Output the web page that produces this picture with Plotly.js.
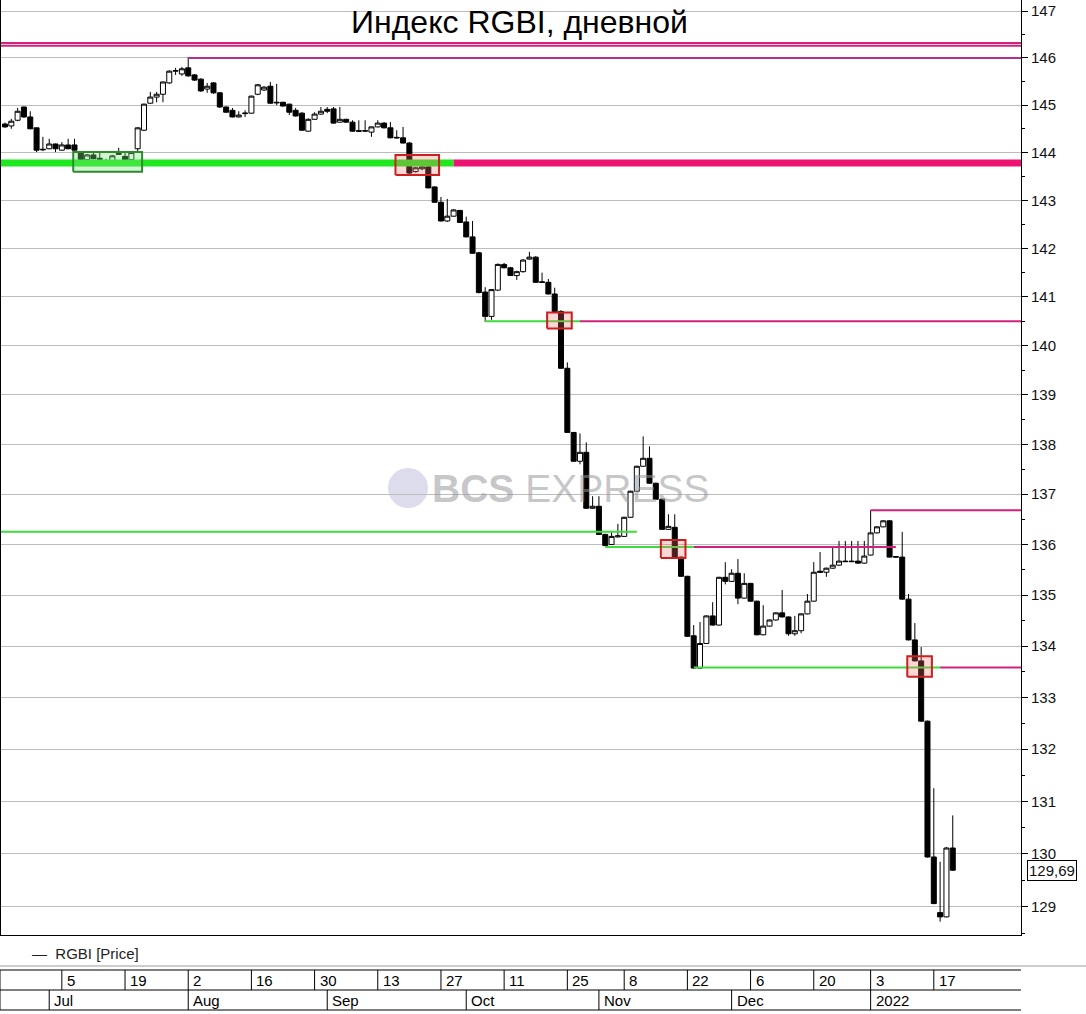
<!DOCTYPE html>
<html>
<head>
<meta charset="utf-8">
<script src="https://cdn.plot.ly/plotly-3.0.1.min.js"></script>
<style>
html,body{margin:0;padding:0;background:#ffffff;}
#chart{width:1086px;height:1014px;}
</style>
</head>
<body>
<div id="chart"></div>
<script>
// ---------- DATA ----------
const startDate = '2021-06-22';
const endDate = '2022-01-20';
const holidays = ['2021-11-04', '2021-12-31'];

const open = [
144.60,144.56,144.68,144.96,144.75,144.52,144.07,144.08,144.18,144.05,
144.16,144.16,143.99,143.85,143.95,143.88,143.78,143.78,143.96,143.92,
143.85,144.08,144.47,145.04,145.17,145.23,145.47,145.72,145.66,145.79,
145.64,145.55,145.34,145.47,145.26,144.96,144.89,144.75,144.82,144.83,
145.23,145.32,145.40,145.06,145.06,145.02,144.89,144.83,144.45,144.70,
144.81,144.91,144.92,144.64,144.70,144.64,144.46,144.45,144.43,144.54,
144.62,144.52,144.32,144.31,144.20,143.60,143.66,143.70,143.28,142.96,
142.57,142.67,142.79,142.55,142.24,141.91,141.10,140.60,141.14,141.67,
141.60,141.44,141.52,141.78,141.82,141.31,141.30,141.06,140.70,139.54,
138.24,137.66,137.84,136.72,136.76,136.20,136.00,136.15,136.16,136.54,
137.06,137.56,137.72,137.22,136.90,136.30,136.34,135.75,135.37,134.20,
133.57,134.05,134.59,134.41,135.35,135.27,135.43,134.94,135.23,134.88,
134.22,134.39,134.51,134.65,134.57,134.24,134.30,134.63,134.88,135.47,
135.45,135.53,135.59,135.67,135.67,135.67,135.63,135.79,136.23,136.35,
136.47,135.76,135.75,134.92,134.12,133.71,132.54,129.94,128.89,128.81,
130.11];
const high = [
144.63,144.71,144.94,144.97,144.87,144.53,144.33,144.29,144.19,144.22,
144.29,144.29,144.03,143.97,144.03,143.99,143.87,143.95,144.10,144.01,
144.03,144.53,145.03,145.28,145.28,145.50,145.74,145.79,145.81,146.02,
145.66,145.57,145.47,145.49,145.28,144.97,144.94,144.87,144.89,145.20,
145.45,145.40,145.49,145.45,145.07,145.03,144.94,144.85,144.72,144.85,
144.96,144.96,144.96,144.96,144.71,144.68,144.68,144.68,144.55,144.68,
144.64,144.64,144.47,144.54,144.22,143.70,143.72,143.72,143.29,143.07,
143.03,142.82,142.80,142.66,142.57,141.93,141.20,141.16,141.69,141.70,
141.62,141.54,141.78,141.93,141.84,141.50,141.37,141.19,140.73,139.66,
138.25,138.22,138.04,136.96,136.96,136.21,136.27,136.41,136.55,137.07,
137.57,138.16,137.96,137.23,136.91,136.60,136.60,135.76,135.38,134.41,
134.47,134.60,134.86,135.36,135.65,135.51,135.71,135.43,135.24,134.89,
134.80,134.52,134.66,135.10,134.58,134.59,134.64,135.02,135.65,135.85,
135.54,135.93,136.07,136.07,136.07,136.07,136.07,136.68,136.36,136.48,
136.48,135.77,136.25,135.02,134.45,133.98,132.55,131.25,129.85,130.13,
130.73];
const low = [
144.52,144.50,144.66,144.73,144.49,144.01,144.03,144.07,144.01,144.04,
144.07,144.04,143.84,143.84,143.86,143.80,143.74,143.76,143.95,143.84,
143.84,144.01,144.45,145.03,145.06,145.06,145.45,145.64,145.62,145.60,
145.51,145.28,145.26,145.24,144.94,144.84,144.74,144.74,144.75,144.82,
145.21,145.30,145.03,145.00,144.97,144.79,144.76,144.46,144.44,144.69,
144.80,144.83,144.61,144.63,144.63,144.44,144.43,144.43,144.33,144.53,
144.51,144.30,144.29,144.19,143.55,143.58,143.63,143.25,142.95,142.56,
142.55,142.66,142.53,142.23,141.89,141.07,140.49,140.53,141.12,141.59,
141.43,141.35,141.50,141.77,141.29,141.29,141.05,140.69,139.53,138.23,
137.65,137.60,136.71,136.71,136.19,135.96,135.99,136.14,136.15,136.53,
137.05,137.55,137.21,136.89,136.29,136.29,135.74,135.36,134.18,133.56,
133.56,134.04,134.40,134.40,135.21,135.26,134.82,134.93,134.87,134.21,
134.21,134.38,134.50,134.56,134.20,134.20,134.25,134.62,134.87,135.44,
135.36,135.52,135.58,135.65,135.65,135.62,135.62,135.78,136.22,136.34,
135.74,135.74,134.91,134.11,133.70,132.53,129.93,129.05,128.72,128.80,
129.68];
const close = [
144.54,144.66,144.87,144.75,144.50,144.05,144.06,144.18,144.08,144.16,
144.08,144.05,143.85,143.95,143.87,143.86,143.77,143.93,143.98,143.85,
144.00,144.52,145.02,145.17,145.23,145.49,145.72,145.73,145.77,145.62,
145.53,145.30,145.40,145.26,144.96,144.85,144.75,144.79,144.83,145.19,
145.43,145.38,145.04,145.05,144.98,144.85,144.77,144.47,144.70,144.81,
144.87,144.87,144.62,144.70,144.64,144.45,144.45,144.46,144.54,144.62,
144.52,144.31,144.31,144.20,143.57,143.68,143.70,143.26,142.96,142.57,
142.67,142.80,142.54,142.24,141.90,141.09,140.60,141.15,141.67,141.60,
141.44,141.52,141.76,141.82,141.30,141.30,141.06,140.70,139.54,138.24,
137.66,137.84,136.72,136.76,136.20,135.98,136.16,136.17,136.54,137.06,
137.56,137.72,137.22,136.90,136.30,136.36,135.75,135.37,134.19,133.57,
134.05,134.59,134.41,135.35,135.27,135.43,134.94,135.23,134.88,134.22,
134.39,134.51,134.65,134.57,134.24,134.30,134.63,134.88,135.45,135.45,
135.53,135.59,135.67,135.66,135.66,135.63,135.77,136.23,136.35,136.47,
135.75,135.75,134.92,134.12,133.71,132.54,129.94,129.06,128.81,130.11,
129.69];

const lastPrice = 129.69;
const lastPriceLabel = '129,69';

const dayTickDates = ['2021-07-05','2021-07-19','2021-08-02','2021-08-16','2021-08-30','2021-09-13','2021-09-27',
  '2021-10-11','2021-10-25','2021-11-08','2021-11-22','2021-12-06','2021-12-20','2022-01-03','2022-01-17'];
const dayTickLabels = ['5','19','2','16','30','13','27','11','25','8','22','6','20','3','17'];
const monthTickDates = ['2021-07-01','2021-08-02','2021-09-01','2021-10-01','2021-11-01','2021-12-01','2022-01-03'];
const monthTickLabels = ['Jul','Aug','Sep','Oct','Nov','Dec','2022'];

// horizontal levels (null = chart edge)
const levelValues = [146.32, 146.26, 146.00, 143.78, 143.78, 140.50, 140.50, 136.25, 135.95, 135.95, 136.68, 133.58, 133.58];
const levelFrom   = [null, null, '2021-08-02', null, '2021-09-29', '2021-10-06', '2021-10-27', null, '2021-11-02', '2021-11-23', '2022-01-03', '2021-11-23', '2022-01-18'];
const levelTo     = [null, null, null, '2021-09-29', null, '2021-10-27', null, '2021-11-10', '2021-11-23', '2022-01-07', null, '2022-01-18', null];
const levelKind   = ['top','top','peak','greenThick','pinkThick','green','pink','green','green','pink','pink','green','pink'];

// marked zones
const zoneFrom = ['2021-07-07','2021-09-16','2021-10-20','2021-11-16','2022-01-11'];
const zoneTo   = ['2021-07-21','2021-09-24','2021-10-25','2021-11-19','2022-01-14'];
const zoneLow  = [143.60, 143.53, 140.35, 135.73, 133.40];
const zoneHigh = [144.01, 143.95, 140.68, 136.09, 133.80];
const zoneKind = ['green','red','red','red','red'];

// ---------- build trading-day categories ----------
function tradingDays(s, e, hol) {
  const out = [];
  let d = new Date(s + 'T00:00:00Z');
  const end = new Date(e + 'T00:00:00Z');
  while (d <= end) {
    const iso = d.toISOString().slice(0, 10);
    const wd = d.getUTCDay();
    if (wd !== 0 && wd !== 6 && hol.indexOf(iso) < 0) out.push(iso);
    d = new Date(d.getTime() + 86400000);
  }
  return out;
}
const dates = tradingDays(startDate, endDate, holidays);
const idx = dates.map((d, i) => i);
function pos(d) { return dates.indexOf(d); }

// ---------- styles ----------
const X_RANGE = [-0.63, 160.8];
const LEFT = -2, RIGHT = 165;
const kindStyle = {
  top:        {color: '#d4217c', width: 2},
  peak:       {color: '#b3338a', width: 2},
  greenThick: {color: '#1fe81f', width: 7},
  pinkThick:  {color: '#ee1271', width: 7},
  green:      {color: '#3ddc3d', width: 2},
  pink:       {color: '#d0227d', width: 2}
};
const zoneStyle = {
  green: {line: '#2f8a2f', fill: 'rgba(120,225,120,0.35)'},
  red:   {line: '#cc1f1f', fill: 'rgba(255,110,110,0.28)'}
};

const traces = [];
levelValues.forEach((v, i) => {
  const x0 = levelFrom[i] ? pos(levelFrom[i]) : LEFT;
  const x1 = levelTo[i] ? pos(levelTo[i]) : RIGHT;
  const st = kindStyle[levelKind[i]];
  traces.push({type: 'scatter', mode: 'lines', x: [x0, x1], y: [v, v],
    line: {color: st.color, width: st.width}, hoverinfo: 'skip', showlegend: false});
});
zoneLow.forEach((lo, i) => {
  const x0 = pos(zoneFrom[i]) - 0.2, x1 = pos(zoneTo[i]) + 0.7;
  const hi = zoneHigh[i];
  const st = zoneStyle[zoneKind[i]];
  traces.push({type: 'scatter', mode: 'lines', x: [x0, x1, x1, x0, x0], y: [lo, lo, hi, hi, lo],
    fill: 'toself', fillcolor: st.fill, line: {color: st.line, width: 2},
    hoverinfo: 'skip', showlegend: false});
});
traces.push({
  type: 'candlestick', x: idx, open: open, high: high, low: low, close: close,
  increasing: {line: {color: '#000000', width: 1}, fillcolor: '#ffffff'},
  decreasing: {line: {color: '#000000', width: 1}, fillcolor: '#000000'},
  whiskerwidth: 0, name: 'RGBI [Price]', showlegend: false, hoverinfo: 'skip'
});

// ---------- bottom date table ----------
const PH = 935;
const py = Y => (PH - Y) / PH;           // pixel row -> paper y
const narrow = 'Liberation Sans Narrow, Arial Narrow, Liberation Sans, Arial, sans-serif';
const shapes = [];
const annotations = [];
const tableLine = {color: '#000000', width: 1};
[970, 990, 1010].forEach(Y => shapes.push({type: 'line', xref: 'paper', yref: 'paper',
  x0: -0.001, x1: 1, y0: py(Y), y1: py(Y), line: tableLine}));
shapes.push({type: 'line', xref: 'paper', yref: 'paper', x0: -0.001, x1: -0.001, y0: py(970), y1: py(1010), line: tableLine});
shapes.push({type: 'line', xref: 'paper', yref: 'paper', x0: -0.001, x1: 1.07, y0: py(966), y1: py(966), line: {color: '#9a9a9a', width: 1}});
dayTickDates.forEach((d, i) => {
  const p = pos(d);
  shapes.push({type: 'line', xref: 'x', yref: 'paper', x0: p, x1: p, y0: py(970), y1: py(990), line: tableLine});
  annotations.push({xref: 'x', yref: 'paper', x: p, y: py(980), xshift: 3, xanchor: 'left', yanchor: 'middle',
    text: dayTickLabels[i], showarrow: false, font: {family: narrow, size: 15, color: '#000'}});
});
monthTickDates.forEach((d, i) => {
  const p = pos(d);
  shapes.push({type: 'line', xref: 'x', yref: 'paper', x0: p, x1: p, y0: py(990), y1: py(1010), line: tableLine});
  annotations.push({xref: 'x', yref: 'paper', x: p, y: py(1000), xshift: 3, xanchor: 'left', yanchor: 'middle',
    text: monthTickLabels[i], showarrow: false, font: {family: narrow, size: 15, color: '#000'}});
});

// legend text
annotations.push({xref: 'paper', yref: 'paper', x: 0.028, y: py(953), xanchor: 'left', yanchor: 'middle',
  text: '—  RGBI [Price]', showarrow: false, font: {family: narrow, size: 15, color: '#222'}});

// title
annotations.push({xref: 'paper', yref: 'paper', x: 0.5083, y: py(22), xanchor: 'center', yanchor: 'middle',
  text: 'Индекс RGBI, дневной', showarrow: false, font: {family: 'Liberation Sans, Arial, sans-serif', size: 32, color: '#000'}});

// watermark
annotations.push({xref: 'paper', yref: 'paper', x: 0.4206, y: py(488), xanchor: 'left', yanchor: 'middle',
  text: '<b>BCS</b> EXPRESS', showarrow: false,
  font: {family: 'Liberation Sans, Arial, sans-serif', size: 39, color: 'rgba(150,150,155,0.55)'}});
shapes.push({type: 'circle', xref: 'paper', yref: 'paper', layer: 'below',
  x0: 0.3794, x1: 0.4186, y0: py(508), y1: py(468),
  fillcolor: 'rgba(205,205,228,0.7)', line: {width: 0}});

// last price box
annotations.push({xref: 'paper', yref: 'y', x: 1.0055, y: Math.log10(lastPrice), xanchor: 'left', yanchor: 'middle',
  text: lastPriceLabel, showarrow: false, bgcolor: '#ffffff', bordercolor: '#000000', borderwidth: 1, borderpad: 1,
  font: {family: 'Liberation Sans, Arial, sans-serif', size: 15, color: '#111'}});

const layout = {
  width: 1086, height: 1014,
  margin: {l: 1, r: 65, t: 0, b: 79, pad: 0},
  paper_bgcolor: '#ffffff', plot_bgcolor: '#ffffff',
  showlegend: false,
  boxgap: 0.1, boxgroupgap: 0.12,
  xaxis: {
    type: 'linear', range: X_RANGE, showticklabels: false, ticks: '', showgrid: false, zeroline: false,
    showline: true, linecolor: '#000', linewidth: 1, mirror: true,
    rangeslider: {visible: false}, fixedrange: true
  },
  yaxis: {
    type: 'log', side: 'right',
    range: [Math.log10(128.47), Math.log10(147.24)],
    dtick: 'L1', tick0: 0,
    ticks: 'outside', ticklen: 6, tickcolor: '#000', tickwidth: 1,
    showline: true, linecolor: '#000', linewidth: 1, mirror: true,
    showgrid: true, gridcolor: '#bdbdbd', gridwidth: 1, zeroline: false,
    tickfont: {family: 'Liberation Sans, Arial, sans-serif', size: 15, color: '#111'},
    minor: {dtick: 'L0.5', tick0: 0, ticks: 'outside', ticklen: 3, tickcolor: '#000', showgrid: false},
    fixedrange: true
  },
  shapes: shapes,
  annotations: annotations
};

Plotly.newPlot('chart', traces, layout, {displayModeBar: false, staticPlot: true});
</script>
</body>
</html>
